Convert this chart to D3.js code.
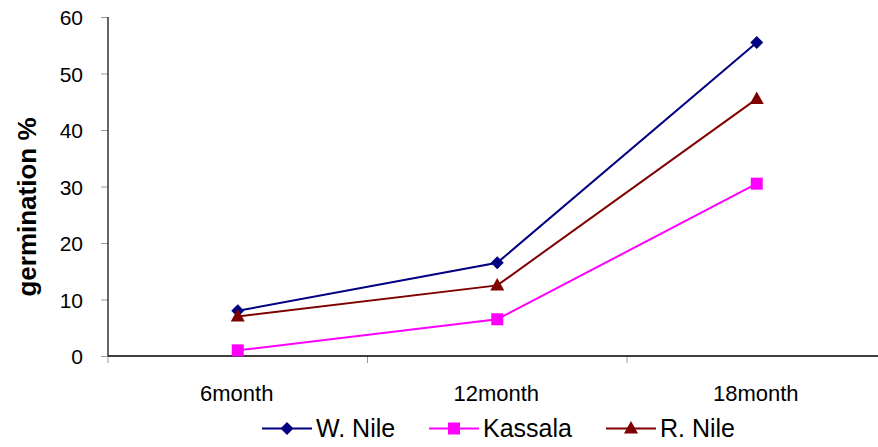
<!DOCTYPE html>
<html><head><meta charset="utf-8">
<script src="https://cdn.jsdelivr.net/npm/d3@7"></script>
<style>body{margin:0;background:#fff}svg{display:block;font-family:"Liberation Sans",Arial,sans-serif}</style>
</head><body><svg id="c" width="878" height="447"></svg>
<script>
const categories = ["6month","12month","18month"];
const wNile = [8, 16.5, 55.5];
const kassala = [1, 6.5, 30.5];
const rNile = [7, 12.5, 45.5];
const yTicks = [0,10,20,30,40,50,60];
const seriesNames = ["W. Nile","Kassala","R. Nile"];
const seriesColors = ["#000080","#FF00FF","#800000"];
const seriesShapes = ["diamond","square","triangle"];
const seriesValues = [wNile, kassala, rNile];

(function(){
const svg = d3.select("#c");
const pl = 108, pr = 886.5, pt = 17, pb = 356;
const x = d3.scaleBand().domain(categories).range([pl, pr]);
const y = d3.scaleLinear().domain([0,60]).range([pb, pt]);

// y axis
const ya = svg.append("g").attr("transform",`translate(${pl},0)`)
  .call(d3.axisLeft(y).tickValues(yTicks).tickSize(7).tickPadding(18).tickFormat(d3.format("d")));
ya.select(".domain").remove();
ya.selectAll(".tick line").attr("stroke","#999");
ya.selectAll(".tick text").attr("font-size",21).attr("fill","#000").attr("font-family","Liberation Sans, Arial, sans-serif").attr("dy","0.36em");
svg.append("line").attr("x1",pl).attr("x2",pl).attr("y1",pt).attr("y2",pb).attr("stroke","#000").attr("stroke-width",1.2);

// x axis
const tickPos = categories.map(c => x(c)).concat([pr]);
svg.selectAll("line.xt").data(tickPos).join("line").attr("class","xt")
  .attr("x1",d=>d).attr("x2",d=>d).attr("y1",pb).attr("y2",pb+7).attr("stroke","#999");
svg.append("line").attr("x1",pl).attr("x2",pr).attr("y1",pb).attr("y2",pb).attr("stroke","#000").attr("stroke-width",1.5);
svg.selectAll("text.xl").data(categories).join("text").attr("class","xl")
  .attr("x",d=>x(d)+x.bandwidth()/2-1).attr("y",401).attr("text-anchor","middle")
  .attr("font-size",22).text(d=>d);

// y title
svg.append("text").attr("transform","translate(36,207) rotate(-90)").attr("text-anchor","middle")
  .attr("font-size",26).attr("font-weight","bold").text("germination %");

function marker(g, shape, color, cx, cy){
  if(shape==="diamond"){
    g.append("path").attr("d",`M${cx},${cy-6.5}L${cx+6.5},${cy}L${cx},${cy+6.5}L${cx-6.5},${cy}Z`).attr("fill",color);
  } else if(shape==="square"){
    g.append("rect").attr("x",cx-6).attr("y",cy-6).attr("width",12).attr("height",12).attr("fill",color);
  } else {
    g.append("path").attr("d",`M${cx},${cy-7.5}L${cx+7},${cy+5}L${cx-7},${cy+5}Z`).attr("fill",color);
  }
}

const line = d3.line().x((d,i)=>x(categories[i])+x.bandwidth()/2).y(d=>y(d));
seriesValues.forEach((vals,s)=>{
  const g = svg.append("g");
  g.append("path").attr("d",line(vals)).attr("fill","none").attr("stroke",seriesColors[s]).attr("stroke-width",2);
  vals.forEach((v,i)=>marker(g, seriesShapes[s], seriesColors[s], x(categories[i])+x.bandwidth()/2, y(v)));
});

// legend
const legX = [262, 429, 606];
seriesNames.forEach((n,s)=>{
  const g = svg.append("g");
  const lx = legX[s], ly = 428.5;
  g.append("line").attr("x1",lx).attr("x2",lx+50).attr("y1",ly).attr("y2",ly).attr("stroke",seriesColors[s]).attr("stroke-width",2);
  marker(g, seriesShapes[s], seriesColors[s], lx+25, ly);
  g.append("text").attr("x",lx+54).attr("y",437).attr("font-size",25).text(n);
});
})();
</script></body></html>
